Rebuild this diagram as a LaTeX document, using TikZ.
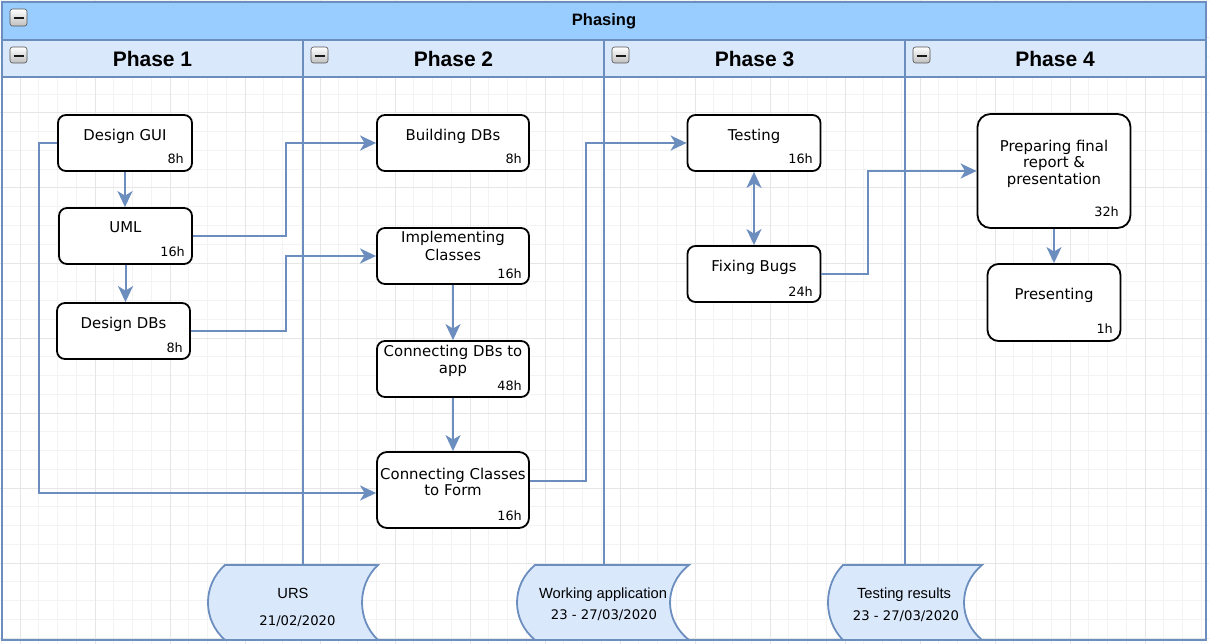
\documentclass[tikz,border=0pt]{standalone}
\usepackage{fontspec}
\setmainfont{DejaVu Sans}
\newfontfamily\arialf{Liberation Sans}
\usetikzlibrary{arrows.meta,calc}
\definecolor{poolc}{HTML}{6C8EBF}
\definecolor{titlec}{HTML}{99CCFF}
\definecolor{headc}{HTML}{DAE8FC}
\definecolor{gridminor}{HTML}{F3F3F3}
\definecolor{gridmajor}{HTML}{E6E6E6}
\tikzset{
  task/.style={draw=black, line width=1.8pt, fill=white, rounded corners=8pt, inner sep=0pt},
  tasktext/.style={font=\fontsize{14.9}{17}\selectfont, anchor=base, inner sep=0pt},
  hours/.style={font=\fontsize{12.8}{14}\selectfont, anchor=base east, inner sep=0pt},
  tip/.tip={Stealth[length=16pt,width=15pt,inset=4.5pt]},
  conn/.style={draw=poolc, line width=2pt, -tip},
  biconn/.style={draw=poolc, line width=2pt, tip-tip},
  poolline/.style={draw=poolc, line width=2pt},
  milestone/.style={draw=poolc, fill=headc, line width=1.8pt},
  mtitle/.style={font=\arialf\fontsize{14.7}{17}\selectfont, anchor=base, inner sep=0pt},
  mdate/.style={font=\fontsize{13.2}{15}\selectfont, anchor=base, inner sep=0pt},
  phasetext/.style={font=\arialf\bfseries\fontsize{21}{24}\selectfont, anchor=base, inner sep=0pt},
  icon/.style={draw=gray!65!black, line width=0.6pt, rounded corners=2.5pt, top color=white, bottom color=gray!50},
  iconbar/.style={draw=gray!20!black, line width=2pt}
}
\begin{document}
\begin{tikzpicture}[x=1pt,y=-1pt]
\useasboundingbox (0,0) rectangle (1209,644);
% grid
\foreach \i in {0,...,64} { \draw[gridminor, line width=1pt] ({1.25+18.75*\i},0) -- ({1.25+18.75*\i},644); }
\foreach \i in {0,...,34} { \draw[gridminor, line width=1pt] (0,{0.5+18.75*\i}) -- (1209,{0.5+18.75*\i}); }
\foreach \i in {0,...,16} { \draw[gridmajor, line width=1pt] ({20+75*\i},0) -- ({20+75*\i},644); }
\foreach \i in {0,...,8} { \draw[gridmajor, line width=1pt] (0,{38+75*\i}) -- (1209,{38+75*\i}); }
% pool title and headers
\fill[titlec] (2,2) rectangle (1206,40);
\fill[headc] (2,40) rectangle (1206,77);
\draw[poolline] (2,40) -- (1206,40);
\draw[poolline] (2,77) -- (1206,77);
\draw[poolline] (303,40) -- (303,565);
\draw[poolline] (604,40) -- (604,565);
\draw[poolline] (905,40) -- (905,565);
\node[font=\arialf\bfseries\fontsize{16.5}{18}\selectfont, anchor=base, inner sep=0pt] (phasing) at (604,26) {Phasing};
\node[phasetext] (ph1) at (152.5,66.5) {Phase 1};
\node[phasetext] (ph2) at (453.5,66.5) {Phase 2};
\node[phasetext] (ph3) at (754.5,66.5) {Phase 3};
\node[phasetext] (ph4) at (1055,66.5) {Phase 4};
% collapse icons
\draw[icon] (10,9) rectangle (27,26);
\draw[iconbar] (13.5,18) -- (23.5,18);
\foreach \x in {10,311,612,913} {
  \draw[icon] (\x,47) rectangle (\x+17,63);
  \draw[iconbar] (\x+3.5,56) -- (\x+13.5,56);
}
% tasks phase 1
\node[task, minimum width=134pt, minimum height=56pt] (gui) at (125,143) {};
\node[tasktext] (guit) at (125,141) {Design GUI};
\node[hours] (guih) at (184,164) {8h};
\node[task, minimum width=133pt, minimum height=56pt] (uml) at (125.5,236) {};
\node[tasktext] (umlt) at (125.5,233) {UML};
\node[hours] (umlh) at (185,257) {16h};
\node[task, minimum width=133pt, minimum height=56pt] (ddb) at (123.5,331) {};
\node[tasktext] (ddbt) at (123.5,328) {Design DBs};
\node[hours] (ddbh) at (183,352) {8h};
% tasks phase 2
\node[task, minimum width=152pt, minimum height=56pt] (bdb) at (453,143) {};
\node[tasktext] (bdbt) at (453,141) {Building DBs};
\node[hours] (bdbh) at (522,164) {8h};
\node[task, minimum width=152pt, minimum height=56pt] (impl) at (453,256) {};
\node[tasktext] (implt1) at (453,243) {Implementing};
\node[tasktext] (implt2) at (453,260) {Classes};
\node[hours] (implh) at (522,278) {16h};
\node[task, minimum width=152pt, minimum height=56pt] (cdb) at (453,369) {};
\node[tasktext] (cdbt1) at (453,356) {Connecting DBs to};
\node[tasktext] (cdbt2) at (453,373) {app};
\node[hours] (cdbh) at (522,390) {48h};
\node[task, minimum width=152pt, minimum height=76pt, rounded corners=10pt] (ccf) at (453,490) {};
\node[tasktext] (ccft1) at (453,479) {Connecting Classes};
\node[tasktext] (ccft2) at (453,495) {to Form};
\node[hours] (ccfh) at (522,520) {16h};
% tasks phase 3
\node[task, minimum width=133pt, minimum height=56pt] (test) at (754,143) {};
\node[tasktext] (testt) at (754,141) {Testing};
\node[hours] (testh) at (813,164) {16h};
\node[task, minimum width=133pt, minimum height=56pt] (fix) at (754,274) {};
\node[tasktext] (fixt) at (754,271) {Fixing Bugs};
\node[hours] (fixh) at (813,296) {24h};
% tasks phase 4
\node[task, minimum width=153pt, minimum height=114pt, rounded corners=13pt] (prep) at (1054,171) {};
\node[tasktext] (prept1) at (1054,152) {Preparing final};
\node[tasktext] (prept2) at (1054,168) {report \&};
\node[tasktext] (prept3) at (1054,185) {presentation};
\node[hours] (preph) at (1119,217) {32h};
\node[task, minimum width=133pt, minimum height=77pt, rounded corners=11pt] (pres) at (1054,302.5) {};
\node[tasktext] (prest) at (1054,299) {Presenting};
\node[hours] (presh) at (1113,333) {1h};
% connectors
\draw[conn] (gui.south) -- (gui.south |- uml.north);
\draw[conn] (uml.south) -- (uml.south |- ddb.north);
\draw[conn] (gui.west) -- ++(-18,0) |- ([yshift=-3pt]ccf.west);
\draw[conn] (uml.east) -- ++(93,0) |- (bdb.west);
\draw[conn] (ddb.east) -- ++(95,0) |- (impl.west);
\draw[conn] (impl.south) -- (impl.south |- cdb.north);
\draw[conn] (cdb.south) -- (cdb.south |- ccf.north);
\draw[conn] ([yshift=9pt]ccf.east) -- ++(56,0) |- (test.west);
\draw[biconn] (test.south) -- (fix.north);
\draw[conn] (fix.east) -- ++(47,0) |- (prep.west);
\draw[conn] (prep.south) -- (pres.north);
% milestones
\draw[milestone] (225,565) -- (378,565) .. controls (356.7,585) and (356.7,620) .. (378,640) -- (225,640) .. controls (202.3,620) and (202.3,585) .. (225,565) -- cycle;
\node[mtitle] (urs) at (293,598) {URS};
\node[mdate] (ursd) at (297.5,625) {21/02/2020};
\draw[milestone] (535,565) -- (689,565) .. controls (663.7,585) and (663.7,620) .. (689,640) -- (535,640) .. controls (511,620) and (511,585) .. (535,565) -- cycle;
\node[mtitle] (wapp) at (603,598) {Working application};
\node[mdate] (wappd) at (604,619) {23 - 27/03/2020};
\draw[milestone] (843,565) -- (982,565) .. controls (958,585) and (958,620) .. (982,640) -- (843,640) .. controls (823,620) and (823,585) .. (843,565) -- cycle;
\node[mtitle] (tres) at (904,598) {Testing results};
\node[mdate] (tresd) at (906,620) {23 - 27/03/2020};
% outer border
\draw[poolline] (2,2) rectangle (1206,640);
\end{tikzpicture}
\end{document}
